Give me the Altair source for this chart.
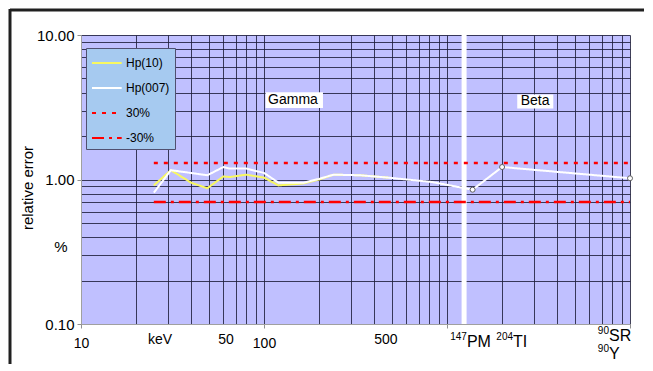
import altair as alt
import pandas as pd

# ---------------- data ----------------
hp10_x = [25, 31, 40, 49, 60, 65, 80, 100, 120, 164, 200, 240, 335, 480]
hp10_y = [0.91, 1.16, 0.95, 0.87, 1.05, 1.04, 1.08, 1.03, 0.91, 0.94, 1.00, 1.08, 1.07, 1.03]

hp007_x = [25, 31, 49, 60, 65, 80, 100, 120, 164, 200, 240, 335, 480, 830, 1380, 2000, 10000]
hp007_y = [0.81, 1.16, 1.07, 1.22, 1.19, 1.19, 1.11, 0.95, 0.95, 1.01, 1.08, 1.07, 1.03, 0.96, 0.85, 1.22, 1.02]

beta_x = [1380, 2000, 10000]
beta_y = [0.85, 1.22, 1.02]

ref_x = [25, 10000]
ref_plus_y = [1.3, 1.3]
ref_minus_y = [0.7, 0.7]

series_names = ["Hp(10)", "Hp(007)", "30%", "-30%"]
series_colors = ["#f8f860", "#ffffff", "#ff0000", "#ff0000"]
series_dashes = [[1, 0], [1, 0], [4, 6], [12, 5, 3, 5]]

x_grid = [10, 20, 30, 40, 50, 60, 70, 80, 90,
          100, 200, 300, 400, 500, 600, 700, 800, 900,
          1000, 2000, 3000, 4000, 5000, 6000, 7000, 8000, 9000, 10000]
y_grid = [0.1, 0.2, 0.3, 0.4, 0.5, 0.6, 0.7, 0.8, 0.9,
          1, 2, 3, 4, 5, 6, 7, 8, 9, 10]

separator_x = [1240]

xtick_text = ["keV", "50", "500"]
xtick_pos = [27, 62, 464]

# isotope labels: superscript mass number + element symbol
iso_sup = ["147", "204", "90", "90"]
iso_main = ["PM", "TI", "SR", "Y"]
iso_x = [1285, 2296, 7677, 7677]
iso_dy_main = [18, 18, 12, 30]
iso_dy_sup = [13, 13, 7, 25]

region_text = ["Gamma", "Beta"]
region_x = [144, 3030]
region_y = [3.55, 3.48]
box_x = [102, 2420]
box_x2 = [210, 3810]
box_y = [4.02, 3.88]
box_y2 = [3.13, 3.10]

# ---------------- tables ----------------
hp_df = pd.DataFrame({
    "x": hp10_x + hp007_x,
    "y": hp10_y + hp007_y,
    "series": ["Hp(10)"] * len(hp10_x) + ["Hp(007)"] * len(hp007_x),
})
ref_df = pd.DataFrame({
    "x": ref_x + ref_x,
    "y": ref_plus_y + ref_minus_y,
    "series": ["30%"] * 2 + ["-30%"] * 2,
})
beta_df = pd.DataFrame({"x": beta_x, "y": beta_y})
sep_df = pd.DataFrame({"x": separator_x})
xt_df = pd.DataFrame({"x": xtick_pos, "t": xtick_text})
iso_df = pd.DataFrame({"x": iso_x, "sup": iso_sup, "main": iso_main,
                       "dm": iso_dy_main, "ds": iso_dy_sup})
reg_df = pd.DataFrame({"x": region_x, "y": region_y, "t": region_text})
box_df = pd.DataFrame({"x": box_x, "x2": box_x2, "y": box_y, "y2": box_y2})

FONT = "Liberation Sans"
GRID = "#1e1e3c"
H = 289

xs = alt.Scale(type="log", domain=[10, 10000], nice=False)
ys = alt.Scale(type="log", domain=[0.1, 10], nice=False)

x_axis = alt.Axis(
    values=x_grid, title=None, grid=True, gridColor=GRID, gridWidth=1, gridOpacity=0.85,
    labelExpr="(datum.value == 10 || datum.value == 100) ? toString(datum.value) : ''",
    labelOverlap=False, labelFlush=False, labelFontSize=14, labelFont=FONT,
    labelColor="#000000", labelPadding=8, tickSize=4,
    tickColor={"condition": {"test": "datum.value == 10 || datum.value == 100 || datum.value == 1000 || datum.value == 10000",
                             "value": "#909090"}, "value": "transparent"},
    domainColor="#a0a0a0",
)
y_axis = alt.Axis(
    values=y_grid, title=None, grid=True, gridColor=GRID, gridWidth=1, gridOpacity=0.85,
    labelExpr="(datum.value == 0.1 || datum.value == 1 || datum.value == 10) ? format(datum.value, '.2f') : ''",
    labelOverlap=False, labelFlush=False, labelFontSize=15, labelFont=FONT,
    labelColor="#000000", labelPadding=3, tickSize=4,
    tickColor={"condition": {"test": "datum.value == 0.1 || datum.value == 1 || datum.value == 10",
                             "value": "#909090"}, "value": "transparent"},
    domainColor="#a0a0a0",
)

X = alt.X("x:Q", scale=xs, axis=x_axis)
Y = alt.Y("y:Q", scale=ys, axis=y_axis)

legend = alt.Legend(
    orient="none", legendX=5, legendY=13, title=None,
    fillColor="#a6caf0", strokeColor="#505070", padding=5,
    symbolType="M-1,0L2.3,0", symbolSize=324, symbolStrokeWidth=2,
    labelFont=FONT, labelFontSize=12, labelColor="#000000", labelOffset=15,
    rowPadding=9,
)
color_enc = alt.Color("series:N", scale=alt.Scale(domain=series_names, range=series_colors), legend=legend)
dash_enc = alt.StrokeDash("series:N", scale=alt.Scale(domain=series_names, range=series_dashes), legend=legend)

sep = alt.Chart(sep_df).mark_rule(color="white", strokeWidth=5).encode(x=X)

refs = alt.Chart(ref_df).mark_line(strokeWidth=2.5).encode(x=X, y=Y, color=color_enc, strokeDash=dash_enc)
hps = alt.Chart(hp_df).mark_line(strokeWidth=2).encode(x=X, y=Y, color=color_enc, strokeDash=dash_enc)

pts = alt.Chart(beta_df).mark_point(shape="circle", filled=True, fill="white", stroke="#606060",
                                    strokeWidth=1, size=25, opacity=1).encode(x=X, y=Y)

boxes = alt.Chart(box_df).mark_rect(color="white").encode(x=X, x2="x2:Q", y=Y, y2="y2:Q")
regions = alt.Chart(reg_df).mark_text(font=FONT, fontSize=14, color="black").encode(x=X, y=Y, text="t:N")

xt = alt.Chart(xt_df).mark_text(font=FONT, fontSize=14, color="black", baseline="middle").encode(
    x=X, y=alt.value(H + 16), text="t:N")

iso_base = alt.Chart(iso_df).transform_calculate(
    ym=f"{H} + datum.dm",
    ysup=f"{H} + datum.ds",
)
iso_main_t = iso_base.mark_text(font=FONT, fontSize=16, color="black", baseline="middle", align="left").encode(
    x=X, y=alt.Y("ym:Q", scale=None), text="main:N")
iso_sup_t = iso_base.mark_text(font=FONT, fontSize=10, color="black", baseline="middle", align="right").encode(
    x=X, y=alt.Y("ysup:Q", scale=None), text="sup:N")

ytitle = alt.Chart(pd.DataFrame({"t": ["relative error"]})).mark_text(
    font=FONT, fontSize=15, color="black", angle=270, baseline="middle").encode(
    x=alt.value(-53), y=alt.value(153), text="t:N")
pct = alt.Chart(pd.DataFrame({"t": ["%"]})).mark_text(
    font=FONT, fontSize=15, color="black", baseline="middle").encode(
    x=alt.value(-20), y=alt.value(212), text="t:N")

frame_top = alt.Chart(pd.DataFrame({"a": [0]})).mark_rule(color="#202020", strokeWidth=3).encode(
    x=alt.value(-71), x2=alt.value(600), y=alt.value(-25))
frame_left = alt.Chart(pd.DataFrame({"a": [0]})).mark_rule(color="#202020", strokeWidth=3).encode(
    x=alt.value(-71), y=alt.value(-26), y2=alt.value(400))

chart = alt.layer(
    sep, refs, hps, pts, boxes, regions, xt, iso_main_t, iso_sup_t, ytitle, pct, frame_top, frame_left
).properties(
    width=549, height=H,
    autosize=alt.AutoSizeParams(type="none"),
    padding={"left": 73, "top": 27, "right": 14, "bottom": 40},
    background="white",
).configure_view(fill="#c0c0ff", stroke=None)

chart.save("out.html", embed_options={"renderer": "svg", "actions": False})
